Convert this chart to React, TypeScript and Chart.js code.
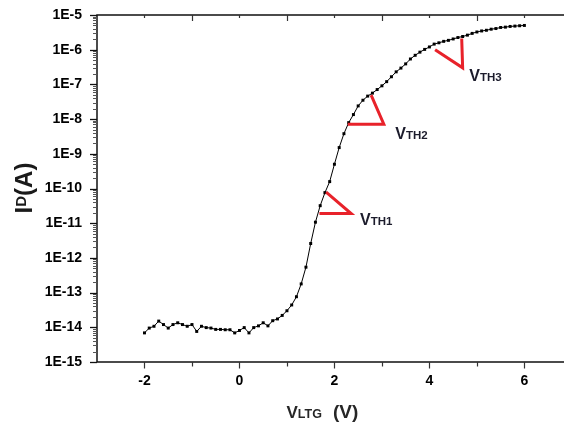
import React, { useEffect, useRef } from 'react';
import { Chart, registerables } from 'chart.js';
Chart.register(...registerables);

// ---- data ----
const vltg = [
  -2.0, -1.9, -1.8, -1.7, -1.6, -1.5, -1.4, -1.3, -1.2, -1.1,
  -1.0, -0.9, -0.8, -0.7, -0.6, -0.5, -0.4, -0.3, -0.2, -0.1,
  0.0, 0.1, 0.2, 0.3, 0.4, 0.5, 0.6, 0.7, 0.8, 0.9,
  1.0, 1.1, 1.2, 1.3, 1.4, 1.5, 1.6, 1.7, 1.8, 1.9,
  2.0, 2.1, 2.2, 2.3, 2.4, 2.5, 2.6, 2.7, 2.8, 2.9,
  3.0, 3.1, 3.2, 3.3, 3.4, 3.5, 3.6, 3.7, 3.8, 3.9,
  4.0, 4.1, 4.2, 4.3, 4.4, 4.5, 4.6, 4.7, 4.8, 4.9,
  5.0, 5.1, 5.2, 5.3, 5.4, 5.5, 5.6, 5.7, 5.8, 5.9,
  6.0,
];
const idA = [
  6.9e-15, 9.5e-15, 1.07e-14, 1.51e-14, 1.2e-14, 9.5e-15, 1.2e-14, 1.35e-14, 1.2e-14, 1.07e-14,
  1.2e-14, 7.6e-15, 1.07e-14, 9.8e-15, 9.5e-15, 8.7e-15, 8.7e-15, 8.5e-15, 8.5e-15, 6.9e-15,
  8.1e-15, 9.8e-15, 6.9e-15, 9.8e-15, 1.1e-14, 1.35e-14, 1.1e-14, 1.55e-14, 1.74e-14, 2.2e-14,
  3.0e-14, 4.4e-14, 7.6e-14, 1.78e-13, 5.4e-13, 2.6e-12, 1.07e-11, 3.2e-11, 7.6e-11, 1.58e-10,
  5.0e-10, 1.51e-9, 3.8e-9, 7.9e-9, 1.35e-8, 2.4e-8, 3.5e-8, 4.6e-8, 5.6e-8, 7.1e-8,
  9.1e-8, 1.2e-7, 1.66e-7, 2.3e-7, 2.95e-7, 3.9e-7, 5.4e-7, 6.9e-7, 8.5e-7, 1.02e-6,
  1.2e-6, 1.45e-6, 1.58e-6, 1.74e-6, 1.86e-6, 2.04e-6, 2.24e-6, 2.4e-6, 2.63e-6, 2.95e-6,
  3.24e-6, 3.47e-6, 3.63e-6, 3.9e-6, 4.07e-6, 4.37e-6, 4.47e-6, 4.68e-6, 4.79e-6, 4.9e-6,
  5.0e-6,
];

const xTickValues = [-2, -1, 0, 1, 2, 3, 4, 5, 6];
const xTickLabels = ['-2', '', '0', '', '2', '', '4', '', '6'];
const yTickValues = [1e-15, 1e-14, 1e-13, 1e-12, 1e-11, 1e-10, 1e-9, 1e-8, 1e-7, 1e-6, 1e-5];
const yTickLabels = ['1E-15', '1E-14', '1E-13', '1E-12', '1E-11', '1E-10', '1E-9', '1E-8', '1E-7', '1E-6', '1E-5'];

// threshold markers (polyline: start -> corner -> end)
const vth1X = [1.825, 2.352, 1.684];
const vth1Y = [7.9e-11, 1.9e-11, 1.9e-11];
const vth2X = [2.773, 3.04, 2.282];
const vth2Y = [4.9e-8, 7.1e-9, 7.1e-9];
const vth3X = [4.12, 4.70, 4.68];
const vth3Y = [1.0e-6, 3.0e-7, 2.1e-6];
const vthSub = ['TH1', 'TH2', 'TH3'];
const vthLabelX = [2.54, 3.28, 4.84];
const vthLabelY = [8.7e-12, 2.6e-9, 1.23e-7];

const X_MIN = -3;
const X_MAX = 6.75;

const FONT = "'Liberation Sans', Arial, Helvetica, sans-serif";

const decorPlugin = {
  id: 'decor',
  afterDatasetsDraw(chart: any) {
    const { ctx, chartArea: a, scales } = chart;
    const xs = scales.x;
    const ys = scales.y;
    const W = chart.width;
    ctx.save();

    // frame
    ctx.strokeStyle = '#111';
    ctx.lineWidth = 1.5;
    ctx.beginPath();
    ctx.moveTo(W + 2, a.top);
    ctx.lineTo(a.left, a.top);
    ctx.lineTo(a.left, a.bottom);
    ctx.lineTo(W + 2, a.bottom);
    ctx.stroke();

    // x ticks
    ctx.lineWidth = 1.2;
    ctx.strokeStyle = '#333';
    xTickValues.forEach((v) => {
      const px = Math.round(xs.getPixelForValue(v)) + 0.5;
      const even = Math.abs(v % 2) < 1e-9;
      ctx.beginPath();
      ctx.moveTo(px, a.bottom);
      ctx.lineTo(px, a.bottom + (even ? 6.5 : 4.5));
      ctx.stroke();
      ctx.beginPath();
      ctx.moveTo(px, a.top);
      ctx.lineTo(px, a.top + (even ? 3 : 6));
      ctx.stroke();
    });

    // y ticks (major + minor)
    yTickValues.forEach((v, i) => {
      const py = Math.round(ys.getPixelForValue(v)) + 0.5;
      ctx.strokeStyle = '#111';
      ctx.lineWidth = 1.3;
      ctx.beginPath();
      ctx.moveTo(a.left - 7, py);
      ctx.lineTo(a.left, py);
      ctx.stroke();
      if (i < yTickValues.length - 1) {
        ctx.strokeStyle = '#555';
        ctx.lineWidth = 1;
        for (let m = 2; m <= 9; m++) {
          const pm = Math.round(ys.getPixelForValue(v * m)) + 0.5;
          ctx.beginPath();
          ctx.moveTo(a.left - 4, pm);
          ctx.lineTo(a.left, pm);
          ctx.stroke();
        }
      }
    });

    // red threshold markers
    ctx.strokeStyle = '#e8222a';
    ctx.lineWidth = 3;
    ctx.lineJoin = 'miter';
    ctx.lineCap = 'butt';
    [[vth1X, vth1Y], [vth2X, vth2Y], [vth3X, vth3Y]].forEach(([xsArr, ysArr]) => {
      ctx.beginPath();
      xsArr.forEach((xv: number, k: number) => {
        const px = xs.getPixelForValue(xv);
        const py = ys.getPixelForValue(ysArr[k]);
        if (k === 0) ctx.moveTo(px, py);
        else ctx.lineTo(px, py);
      });
      ctx.stroke();
    });

    // threshold labels
    ctx.fillStyle = '#1c1c2c';
    ctx.textBaseline = 'alphabetic';
    ctx.textAlign = 'left';
    vthSub.forEach((sub, k) => {
      const px = xs.getPixelForValue(vthLabelX[k]);
      const py = ys.getPixelForValue(vthLabelY[k]);
      ctx.font = `bold 16px ${FONT}`;
      ctx.fillText('V', px, py);
      const w = ctx.measureText('V').width;
      ctx.font = `bold 11.5px ${FONT}`;
      ctx.fillText(sub, px + w, py);
    });

    // x title: V_LTG (V)
    ctx.fillStyle = '#262626';
    let tx = 286.5;
    const tb = 417.5;
    ctx.font = `bold 17px ${FONT}`;
    ctx.fillText('V', tx, tb);
    tx += ctx.measureText('V').width;
    ctx.font = `bold 12.5px ${FONT}`;
    ctx.fillText('LTG', tx, tb);
    ctx.font = `bold 19px ${FONT}`;
    ctx.fillText('(V)', 333, tb);

    // y title: I_D(A), rotated
    ctx.save();
    ctx.translate(0, 188);
    ctx.rotate(-Math.PI / 2);
    ctx.fillStyle = '#1a1a1a';
    const big = `bold 24px ${FONT}`;
    const small = `bold 15px ${FONT}`;
    ctx.font = big;
    const wI = ctx.measureText('I').width;
    const wA = ctx.measureText('(A)').width;
    ctx.font = small;
    const wD = ctx.measureText('D').width;
    const total = wI + wD + wA;
    let u = -total / 2;
    const base = 32;
    ctx.font = big;
    ctx.fillText('I', u, base);
    u += wI;
    ctx.font = small;
    ctx.fillText('D', u, base - 6.5);
    u += wD;
    ctx.font = big;
    ctx.fillText('(A)', u, base);
    ctx.restore();

    ctx.restore();
  },
};

export default function App() {
  const ref = useRef<HTMLCanvasElement | null>(null);
  useEffect(() => {
    document.body.style.margin = '0';
    const canvas = ref.current;
    if (!canvas) return;
    const chart = new Chart(canvas, {
      type: 'line',
      data: {
        datasets: [
          {
            data: vltg.map((v, i) => ({ x: v, y: idA[i] })),
            borderColor: '#000',
            borderWidth: 1,
            pointStyle: 'rect',
            pointRadius: 2.1,
            pointBackgroundColor: '#000',
            pointBorderColor: '#000',
            pointBorderWidth: 0,
            tension: 0,
            fill: false,
          },
        ],
      },
      options: {
        animation: false,
        responsive: false,
        devicePixelRatio: 1,
        layout: { padding: { top: 15, left: 0, right: 0, bottom: 0 } },
        plugins: { legend: { display: false }, tooltip: { enabled: false } },
        scales: {
          x: {
            type: 'linear',
            min: X_MIN,
            max: X_MAX,
            afterBuildTicks: (s: any) => {
              s.ticks = xTickValues.map((v) => ({ value: v }));
            },
            afterFit: (s: any) => {
              s.height = 63;
              s.paddingLeft = 0;
              s.paddingRight = 0;
            },
            ticks: {
              autoSkip: false,
              maxRotation: 0,
              padding: 11,
              color: '#000',
              font: { family: FONT, size: 14, weight: 'bold' },
              callback: (_v: any, i: number) => xTickLabels[i],
            },
            grid: { display: false, drawTicks: false, tickLength: 0 },
            border: { display: false },
          },
          y: {
            type: 'logarithmic',
            min: 1e-15,
            max: 1e-5,
            afterBuildTicks: (s: any) => {
              s.ticks = yTickValues.map((v) => ({ value: v }));
            },
            afterFit: (s: any) => {
              s.width = 97;
              s.paddingTop = 0;
              s.paddingBottom = 0;
            },
            ticks: {
              autoSkip: false,
              padding: 15,
              color: '#000',
              font: { family: FONT, size: 14, weight: 'bold' },
              callback: (_v: any, i: number) => yTickLabels[i],
            },
            grid: { display: false, drawTicks: false, tickLength: 0 },
            border: { display: false },
          },
        },
      },
      plugins: [decorPlugin],
    } as any);
    return () => chart.destroy();
  }, []);
  return (
    <div style={{ width: 564, height: 425 }}>
      <canvas ref={ref} width={564} height={425} style={{ display: 'block' }} />
    </div>
  );
}
